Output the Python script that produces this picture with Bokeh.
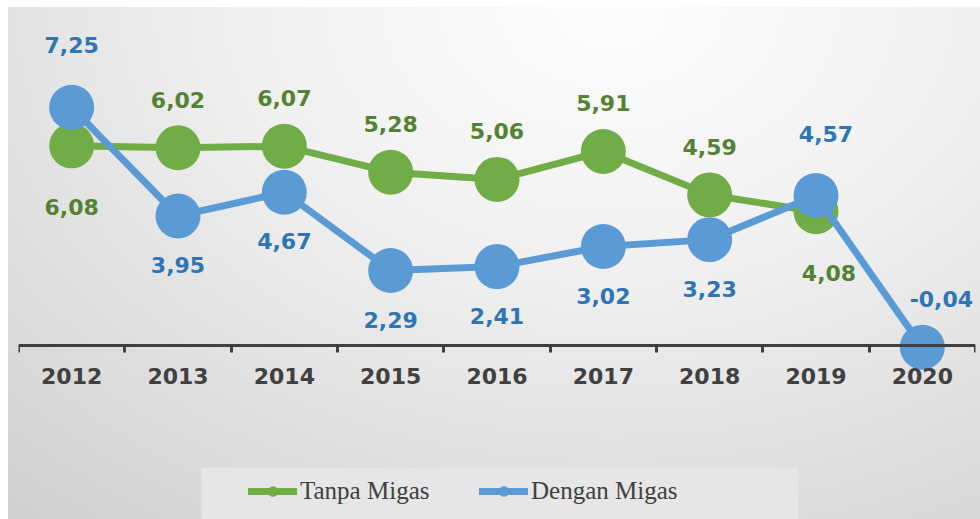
from bokeh.plotting import figure
from bokeh.models import (Range1d, FixedTicker, LinearAxis, Legend, LegendItem,
                          BoxAnnotation, ColumnDataSource)
from bokeh.embed import file_html
from bokeh.resources import INLINE

# ---------------- data ----------------
years = ["2012", "2013", "2014", "2015", "2016", "2017", "2018", "2019", "2020"]
tanpa_migas = [6.08, 6.02, 6.07, 5.28, 5.06, 5.91, 4.59, 4.08]
dengan_migas = [7.25, 3.95, 4.67, 2.29, 2.41, 3.02, 3.23, 4.57, -0.04]

# label placement (style): above / below the marker, small horizontal nudges
tanpa_label_pos = ["below_far", "above", "above", "above", "above", "above", "above", "below_far"]
dengan_label_pos = ["above_far", "below", "below", "below", "below", "below", "below", "above_far", "above"]
tanpa_label_nudge = [0, 0, 0, 0, 0, 0, 0, 13]
dengan_label_nudge = [0, 0, 0, 0, 0, 0, 0, 10, 19]
OFFSETS = {"above": -48, "above_far": -62, "below": 49, "below_far": 61}

GREEN = "#70AD47"
BLUE = "#5B9BD5"
GREEN_TXT = "#548235"
BLUE_TXT = "#2E75B6"
AXIS_C = "#404040"

# ---------------- layout ----------------
W, H = 980, 519
LEFT, RIGHT = 18, 5
x_start, x_end = -0.5, len(years) - 0.5
y_start, y_end = -5.277, 10.498

p = figure(width=W, height=H, output_backend="svg", toolbar_location=None,
           x_range=Range1d(x_start, x_end), y_range=Range1d(y_start, y_end),
           x_axis_type=None, y_axis_type=None,
           min_border_left=LEFT, min_border_right=RIGHT, min_border_top=0, min_border_bottom=0,
           outline_line_color=None, background_fill_alpha=0, border_fill_alpha=0)
p.styles = {"background": "radial-gradient(ellipse 95% 130% at 62% 0%, #fdfdfd 0%, #f0f0f0 40%, #d0d0d0 100%) "
                          "8px 7px / calc(100% - 8px) calc(100% - 7px) no-repeat, #ffffff"}

xi = list(range(len(years)))

def fmt(v):
    return f"{v:.2f}".replace(".", ",")

# legend background box (style element, from pixel layout)
frame_w = W - LEFT - RIGHT
def px_to_x(px):
    return x_start + (px - LEFT) / frame_w * (x_end - x_start)
def py_to_y(py):
    return y_end - py / H * (y_end - y_start)

p.add_layout(BoxAnnotation(left=px_to_x(201), right=px_to_x(798), top=py_to_y(467), bottom=y_start,
                           fill_color="#e6e6e6", fill_alpha=1.0, line_color=None, level="underlay"))

# x axis crossing at y = 0: labels at category centres, ticks between categories
x_axis = LinearAxis(ticker=FixedTicker(ticks=xi, minor_ticks=[i - 0.5 for i in range(len(years) + 1)]),
                    major_label_overrides={i: y for i, y in enumerate(years)},
                    fixed_location=0, axis_line_color=AXIS_C, axis_line_width=3,
                    major_tick_line_color=None, major_tick_out=0, major_tick_in=0,
                    minor_tick_line_color=AXIS_C, minor_tick_line_width=3,
                    minor_tick_out=7, minor_tick_in=0,
                    major_label_standoff=15,
                    major_label_text_font="DejaVu Sans", major_label_text_font_style="bold",
                    major_label_text_font_size="22px", major_label_text_color=AXIS_C)
p.add_layout(x_axis, "below")

# series
src_t = ColumnDataSource(dict(x=xi[:len(tanpa_migas)], y=tanpa_migas,
                              lab=[fmt(v) for v in tanpa_migas],
                              dx=tanpa_label_nudge,
                              off=[OFFSETS[k] for k in tanpa_label_pos]))
src_d = ColumnDataSource(dict(x=xi[:len(dengan_migas)], y=dengan_migas,
                              lab=[fmt(v) for v in dengan_migas],
                              dx=dengan_label_nudge,
                              off=[OFFSETS[k] for k in dengan_label_pos]))

gl = p.line("x", "y", source=src_t, line_color=GREEN, line_width=7, line_join="round", line_cap="round")
gs = p.scatter("x", "y", source=src_t, size=45, fill_color=GREEN, line_color=None)
bl = p.line("x", "y", source=src_d, line_color=BLUE, line_width=7, line_join="round", line_cap="round")
bs = p.scatter("x", "y", source=src_d, size=45, fill_color=BLUE, line_color=None)

p.text("x", "y", text="lab", x_offset="dx", y_offset="off", source=src_t, text_align="center",
       text_baseline="middle", text_color=GREEN_TXT, text_font_size="22px", text_font_style="bold",
       text_font={"value": "DejaVu Sans"})
p.text("x", "y", text="lab", x_offset="dx", y_offset="off", source=src_d, text_align="center",
       text_baseline="middle", text_color=BLUE_TXT, text_font_size="22px", text_font_style="bold",
       text_font={"value": "DejaVu Sans"})

legend = Legend(items=[LegendItem(label="Tanpa Migas", renderers=[gl, gs]),
                       LegendItem(label="Dengan Migas", renderers=[bl, bs])],
                orientation="horizontal", location=(248 - LEFT, H - 505),
                background_fill_alpha=0, border_line_color=None,
                padding=0, margin=0, spacing=29,
                glyph_width=49, glyph_height=26, label_height=26, label_width=150,
                label_standoff=3, label_text_font="Liberation Serif",
                label_text_font_size="25px", label_text_color=AXIS_C)
p.add_layout(legend)

open("out.html", "w").write(file_html(p, INLINE))
